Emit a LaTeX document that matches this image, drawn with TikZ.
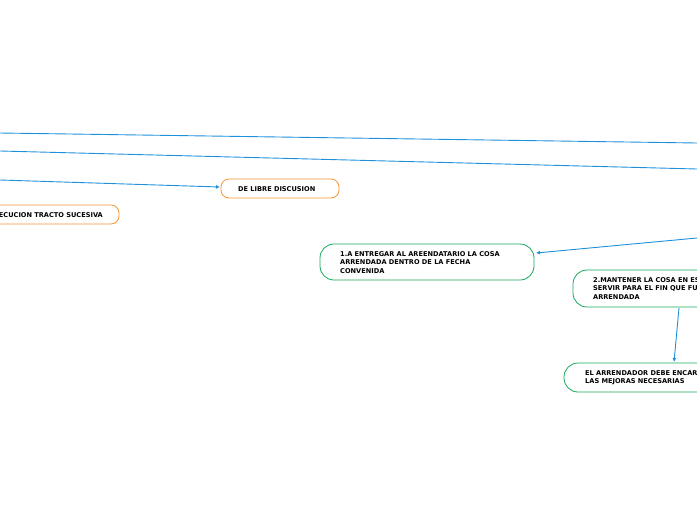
\documentclass[tikz,border=0pt]{standalone}
\usepackage{fontspec}
\setmainfont{DejaVu Sans}
\usetikzlibrary{arrows.meta}
\begin{document}
\begin{tikzpicture}[x=1pt,y=-1pt,
  lnk/.style={draw={rgb,255:red,30;green,144;blue,220},line width=0.9pt},
  arr/.style={lnk,-{Latex[length=4pt,width=4pt]}},
  obox/.style={draw={rgb,255:red,245;green,150;blue,50},line width=0.8pt,rounded corners=8pt,fill=white},
  gbox/.style={draw={rgb,255:red,20;green,170;blue,90},line width=0.8pt,rounded corners=14pt,fill=white},
  txt/.style={font=\fontsize{6.6}{8.6}\selectfont\bfseries,align=left,anchor=north west,inner sep=0pt}]
\useasboundingbox (0,0) rectangle (697,520);
\clip (0,0) rectangle (697,520);
\coordinate (l1a) at (0,133); \coordinate (l1b) at (697,143);
\coordinate (l2a) at (0,151); \coordinate (l2b) at (697,169);
\coordinate (l3a) at (0,180);
\coordinate (l4a) at (697,238);
\draw[lnk] (l1a) -- (l1b);
\draw[lnk] (l2a) -- (l2b);
\draw[obox] (221,179) rectangle (339,198);
\node[txt] (dl) at (238,186) {DE LIBRE DISCUSION};
\coordinate (dlw) at (220,187);
\draw[arr] (l3a) -- (dlw);
\draw[obox] (-100,205) rectangle (119,224);
\node[txt,anchor=north east] (ts) at (103,212) {DE EJECUCION TRACTO SUCESIVA};
\draw[gbox] (320,244) rectangle (534,280);
\node[txt] (n1) at (340,251) {1.A ENTREGAR AL AREENDATARIO LA COSA\\ARRENDADA DENTRO DE LA FECHA\\CONVENIDA};
\coordinate (n1e) at (536,253);
\draw[arr] (l4a) -- (n1e);
\draw[gbox] (573,270) rectangle (780,307);
\node[txt] (n2) at (593,277) {2.MANTENER LA COSA EN ESTADO DE\\SERVIR PARA EL FIN QUE FUE\\ARRENDADA};
\draw[gbox] (564,363) rectangle (780,392);
\node[txt] (n3) at (585,370) {EL ARRENDADOR DEBE ENCARGARSE DE\\LAS MEJORAS NECESARIAS};
\coordinate (n2s) at (679,308); \coordinate (n3n) at (674,362);
\draw[arr] (n2s) -- (n3n);
\end{tikzpicture}
\end{document}
